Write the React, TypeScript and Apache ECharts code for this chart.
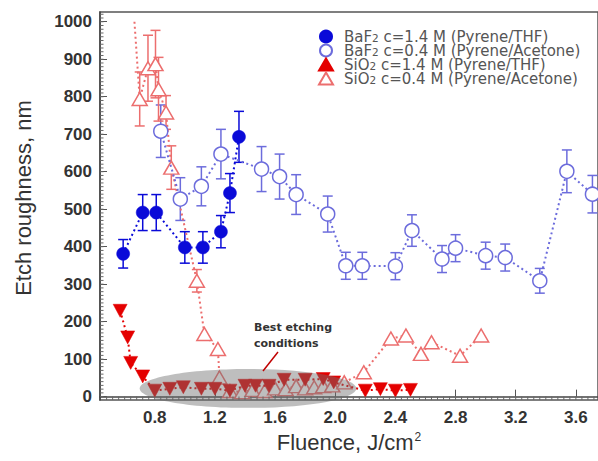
import React, { useEffect, useRef } from "react";
import * as echarts from "echarts";

// ---------- data ----------
const xTickLabels = [0.8, 1.2, 1.6, 2.0, 2.4, 2.8, 3.2, 3.6];
const yTickLabels = [0, 100, 200, 300, 400, 500, 600, 700, 800, 900, 1000];

const baf14X = [0.59, 0.72, 0.81, 1.0, 1.12, 1.24, 1.3, 1.36];
const baf14Y = [381, 491, 491, 398, 398, 440, 543, 693];
const baf14Err = [38, 48, 48, 42, 42, 43, 52, 68];

const baf04X = [0.84, 0.97, 1.11, 1.24, 1.51, 1.63, 1.74, 1.95, 2.07, 2.18, 2.4, 2.51, 2.71, 2.8, 3.0, 3.13, 3.36, 3.54, 3.71];
const baf04Y = [708, 527, 561, 647, 607, 587, 539, 487, 349, 349, 348, 443, 367, 396, 376, 371, 309, 601, 540];
const baf04Err = [70, 57, 52, 66, 60, 60, 53, 48, 36, 36, 36, 42, 36, 36, 36, 36, 33, 57, 50];

const sio14X = [0.57, 0.62, 0.64, 0.72, 0.8, 0.9, 0.99, 1.11, 1.2, 1.3, 1.4, 1.47, 1.56, 1.66, 1.8, 1.92, 1.99, 2.2, 2.3, 2.4, 2.5];
const sio14Y = [229, 158, 90, 54, 16, 21, 25, 21, 21, 16, 29, 29, 29, 45, 45, 47, 38, 16, 20, 16, 18];

const sio04X = [0.665, 0.7, 0.755, 0.805, 0.825, 0.875, 0.91, 1.08, 1.13, 1.22, 1.23, 1.3, 1.38, 1.45, 1.53, 1.6, 1.67, 1.74, 1.8, 1.86, 1.92, 1.98, 2.06, 2.19, 2.37, 2.47, 2.57, 2.64, 2.83, 2.97];
const sio04Y = [1000, 794, 876, 887, 820, 758, 611, 309, 167, 127, 51, 15, 12, 18, 15, 22, 20, 28, 22, 25, 28, 30, 38, 65, 155, 163, 114, 145, 109, 163];
const sio04Err = [0, 72, 88, 90, 85, 45, 58, 30, 0, 0, 0, 0, 0, 0, 0, 0, 0, 0, 0, 0, 0, 0, 0, 0, 0, 0, 0, 0, 0, 0];

// region "Best etching conditions": [centre x, centre y, half-width, half-height]
const bestRegion = [1.42, 22, 0.72, 52];

const names = [
  "BaF2 c=1.4 M (Pyrene/THF)",
  "BaF2 c=0.4 M (Pyrene/Acetone)",
  "SiO2 c=1.4 M (Pyrene/THF)",
  "SiO2 c=0.4 M (Pyrene/Acetone)",
];

const C_BLUE = "#0a0ad8";
const C_LBLUE = "#6c6cdc";
const C_RED = "#e40000";
const C_PINK = "#ec6e6e";

const X_MIN = 0.436;
const X_MAX = 3.747;
const Y_MIN = -9;
const Y_MAX = 1026;

function range(a: number, b: number, step: number) {
  const out: number[] = [];
  for (let v = a; v <= b + 1e-9; v += step) out.push(Math.round(v * 1000) / 1000);
  return out;
}
const xMinorTicks = range(0.48, 3.72, 0.04);
const yMinorTicks = range(0, 1020, 10);

function pts(xs: number[], ys: number[]) {
  return xs.map((x, i) => [x, ys[i]]);
}
function errs(xs: number[], ys: number[], es: number[]) {
  const out: number[][] = [];
  xs.forEach((x, i) => {
    if (es[i] > 0) out.push([x, ys[i] - es[i], ys[i] + es[i]]);
  });
  return out;
}

function errorSeries(data: number[][], color: string) {
  return {
    type: "custom",
    z: 1,
    silent: true,
    clip: true,
    encode: { x: 0, y: [1, 2] },
    data,
    renderItem: (_p: any, api: any) => {
      const x = api.value(0);
      const top = api.coord([x, api.value(2)]);
      const bot = api.coord([x, api.value(1)]);
      const w = 5;
      const st = { stroke: color, lineWidth: 1.5 };
      return {
        type: "group",
        children: [
          { type: "line", shape: { x1: top[0], y1: top[1], x2: bot[0], y2: bot[1] }, style: st },
          { type: "line", shape: { x1: top[0] - w, y1: top[1], x2: top[0] + w, y2: top[1] }, style: st },
          { type: "line", shape: { x1: bot[0] - w, y1: bot[1], x2: bot[0] + w, y2: bot[1] }, style: st },
        ],
      };
    },
  };
}

function minorTickSeries(data: number[][], horizontal: boolean) {
  return {
    type: "custom",
    z: 7,
    silent: true,
    clip: false,
    encode: { x: 0, y: 1 },
    data,
    renderItem: (_p: any, api: any) => {
      const p = api.coord([api.value(0), api.value(1)]);
      const len = 3.5;
      const shape = horizontal
        ? { x1: p[0], y1: 400, x2: p[0], y2: 400 - len }
        : { x1: 100, y1: p[1], x2: 100 + len, y2: p[1] };
      return { type: "line", shape, style: { stroke: "#666", lineWidth: 1 } };
    },
  };
}

export default function App() {
  const ref = useRef<HTMLDivElement>(null);
  useEffect(() => {
    if (!ref.current) return;
    const chart = echarts.init(ref.current, null, { renderer: "svg" });
    const font = "Liberation Sans, Arial, sans-serif";
    const sio04Data = pts(sio04X, sio04Y).map((p, i) =>
      i === 0 ? { value: p, symbol: "none" } : p
    );
    chart.setOption({
      animation: false,
      backgroundColor: "#ffffff",
      grid: {
        left: 100,
        top: 12,
        width: 500,
        height: 388,
        show: true,
        borderColor: "#555",
        borderWidth: 1.5,
      },
      legend: {
        data: [
          { name: names[0], icon: "circle" },
          { name: names[1], icon: "circle" },
          { name: names[2], icon: "triangle" },
          { name: names[3], icon: "triangle" },
        ],
        orient: "vertical",
        left: 313,
        top: 24,
        itemWidth: 14,
        itemHeight: 12,
        itemGap: -1,
        formatter: (n: string) => "{g|}" + n.replace(/(BaF|SiO)2/, "$1{s|2}"),
        textStyle: {
          fontFamily: "DejaVu Sans, sans-serif",
          fontSize: 15,
          color: "#555",
          lineHeight: 14,
          rich: {
            g: { width: 6, lineHeight: 14 },
            s: { fontSize: 10.5, verticalAlign: "bottom", color: "#555", lineHeight: 14 },
          },
        },
      },
      xAxis: {
        type: "value",
        min: X_MIN,
        max: X_MAX,
        position: "bottom",
        axisLine: { show: true, lineStyle: { color: "#444", width: 1.5 } },
        axisTick: { show: true, inside: true, length: 7, customValues: xTickLabels, lineStyle: { color: "#555" } },
        axisLabel: {
          customValues: xTickLabels,
          formatter: (v: number) => v.toFixed(1),
          fontFamily: font,
          fontSize: 17,
          fontWeight: "bold",
          color: "#333",
          margin: 9,
        },
        splitLine: { show: false },
        name: "Fluence, J/cm{sup|2}",
        nameLocation: "middle",
        nameGap: 31,
        nameTextStyle: {
          fontFamily: font,
          fontSize: 22,
          color: "#333",
          rich: { sup: { fontSize: 12, verticalAlign: "top", color: "#333", padding: [0, 0, 10, 1] } },
        },
      },
      yAxis: {
        type: "value",
        min: Y_MIN,
        max: Y_MAX,
        position: "left",
        axisLine: { show: true, lineStyle: { color: "#444", width: 1.5 } },
        axisTick: { show: true, inside: true, length: 7, customValues: yTickLabels, lineStyle: { color: "#555" } },
        axisLabel: {
          customValues: yTickLabels,
          formatter: (v: number) => String(v),
          fontFamily: font,
          fontSize: 17,
          fontWeight: "bold",
          color: "#333",
          margin: 8,
        },
        splitLine: { show: false },
        name: "Etch roughness, nm",
        nameLocation: "middle",
        nameGap: 66,
        nameTextStyle: { fontFamily: font, fontSize: 22, color: "#333", padding: [0, 0, 0, 16] },
      },
      series: [
        minorTickSeries(xMinorTicks.map((v) => [v, Y_MIN]), true),
        minorTickSeries(yMinorTicks.map((v) => [X_MIN, v]), false),
        errorSeries(errs(baf14X, baf14Y, baf14Err), C_BLUE),
        errorSeries(errs(baf04X, baf04Y, baf04Err), C_LBLUE),
        errorSeries(errs(sio04X, sio04Y, sio04Err), C_PINK),
        {
          name: names[3],
          type: "line",
          data: sio04Data,
          symbol: "triangle",
          symbolSize: [15, 13],
          lineStyle: { type: [2, 3], width: 2, color: C_PINK },
          itemStyle: { color: "#fff", borderColor: C_PINK, borderWidth: 1.5 },
          z: 2,
        },
        {
          name: names[1],
          type: "line",
          data: pts(baf04X, baf04Y),
          symbol: "circle",
          symbolSize: 14,
          lineStyle: { type: [2, 3], width: 2, color: C_LBLUE },
          itemStyle: { color: "#fff", borderColor: C_LBLUE, borderWidth: 1.5 },
          z: 3,
        },
        {
          name: names[2],
          type: "line",
          data: pts(sio14X, sio14Y),
          symbol: "triangle",
          symbolRotate: 180,
          symbolSize: [14, 13],
          lineStyle: { type: [2, 3], width: 2, color: C_RED },
          itemStyle: { color: C_RED, borderColor: C_RED, borderWidth: 0.5 },
          z: 4,
        },
        {
          name: names[0],
          type: "line",
          data: pts(baf14X, baf14Y),
          symbol: "circle",
          symbolSize: 13,
          lineStyle: { type: [2, 3], width: 2, color: C_BLUE },
          itemStyle: { color: C_BLUE, borderColor: C_BLUE, borderWidth: 0.5 },
          z: 5,
        },
        {
          type: "custom",
          silent: true,
          clip: false,
          z: 6,
          encode: { x: 0, y: 1 },
          data: [bestRegion],
          renderItem: (_p: any, api: any) => {
            const c = api.coord([api.value(0), api.value(1)]);
            const s = api.size([api.value(2), api.value(3)]);
            return {
              type: "ellipse",
              shape: { cx: c[0], cy: c[1], rx: s[0], ry: s[1] },
              style: { fill: "rgba(110,110,110,0.45)" },
            };
          },
        },
      ],
      graphic: [
        {
          type: "text",
          left: 254,
          top: 319,
          z: 10,
          style: {
            text: "Best etching\nconditions",
            fontFamily: "DejaVu Sans, sans-serif",
            fontWeight: "bold",
            fontSize: 11,
            lineHeight: 16,
            fill: "#333",
          },
        },
        {
          type: "line",
          z: 10,
          shape: { x1: 278, y1: 352, x2: 263, y2: 371 },
          style: { stroke: "#c00000", lineWidth: 1.5 },
        },
      ],
    });
    return () => chart.dispose();
  }, []);
  return (
    <div
      ref={ref}
      style={{ position: "fixed", left: 0, top: 0, width: 598, height: 461, background: "#fff" }}
    />
  );
}
